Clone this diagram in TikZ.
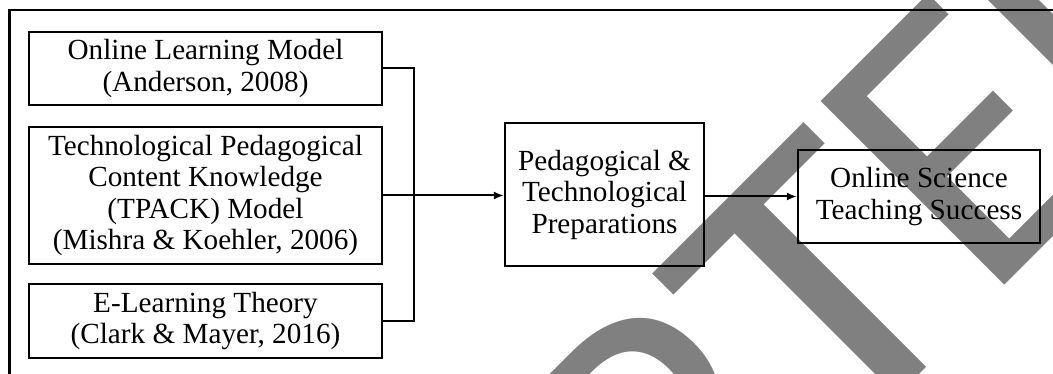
\documentclass[tikz,border=0pt]{standalone}
\usepackage{fontspec}
\setmainfont{Liberation Serif}
\newfontfamily\wmfont{Carlito}
\usetikzlibrary{arrows.meta}
\definecolor{wmgray}{RGB}{128,128,128}
\begin{document}
\begin{tikzpicture}[x=1pt,y=-1pt,
  box/.style={draw, line width=2.2pt, align=center, inner sep=0pt,
    font=\fontsize{29.2}{31.5}\selectfont},
  link/.style={line width=2pt},
  arrowlink/.style={line width=2pt, -{Latex[length=10pt,width=8pt]}},
  wm/.style={text=wmgray, inner sep=0pt, anchor=base west, rotate=45,
    font=\wmfont\fontsize{405}{405}\selectfont}]
\useasboundingbox (0,0) rectangle (1053,374);
% watermark
\begin{scope}
\clip (0,0) rectangle (1053,374);
\node[wm] (wmP) at (682,610) {P};
\node[wm] (wmT) at (831.9,461.3) {\scalebox{1.14}[1]{T}};
\node[wm] (wmE) at (984,306) {E};
\node[wm] (wmD) at (1119.5,170.5) {D};
\end{scope}
% outer frame
\draw[line width=2.4pt] (1053,10) -- (9.5,10) -- (9.5,374);
% boxes
\node[box, minimum width=353pt, minimum height=73pt] (b1) at (205.5,68.5)
  {Online Learning Model\\(Anderson, 2008)};
\node[box, minimum width=353pt, minimum height=137pt] (b2) at (205.5,195.5)
  {Technological Pedagogical\\Content Knowledge\\(TPACK) Model\\(Mishra \& Koehler, 2006)};
\node[box, minimum width=353pt, minimum height=74pt] (b3) at (205.5,321)
  {E-Learning Theory\\(Clark \& Mayer, 2016)};
\node[box, minimum width=199pt, minimum height=143pt] (ped) at (604.5,194.5)
  {Pedagogical \&\\Technological\\Preparations};
\node[box, minimum width=242pt, minimum height=93pt] (out) at (919,196.5)
  {Online Science\\Teaching Success};
% connectors
\coordinate (j1) at (414,68.5);
\coordinate (j3) at (414,321);
\draw[link] (b1.east) -- (j1) -- (j3) -- (b3.east);
\draw[arrowlink] (b2.east) -- (b2.east -| ped.west);
\draw[arrowlink] (ped.east |- out.west) -- (out.west);
\end{tikzpicture}
\end{document}
